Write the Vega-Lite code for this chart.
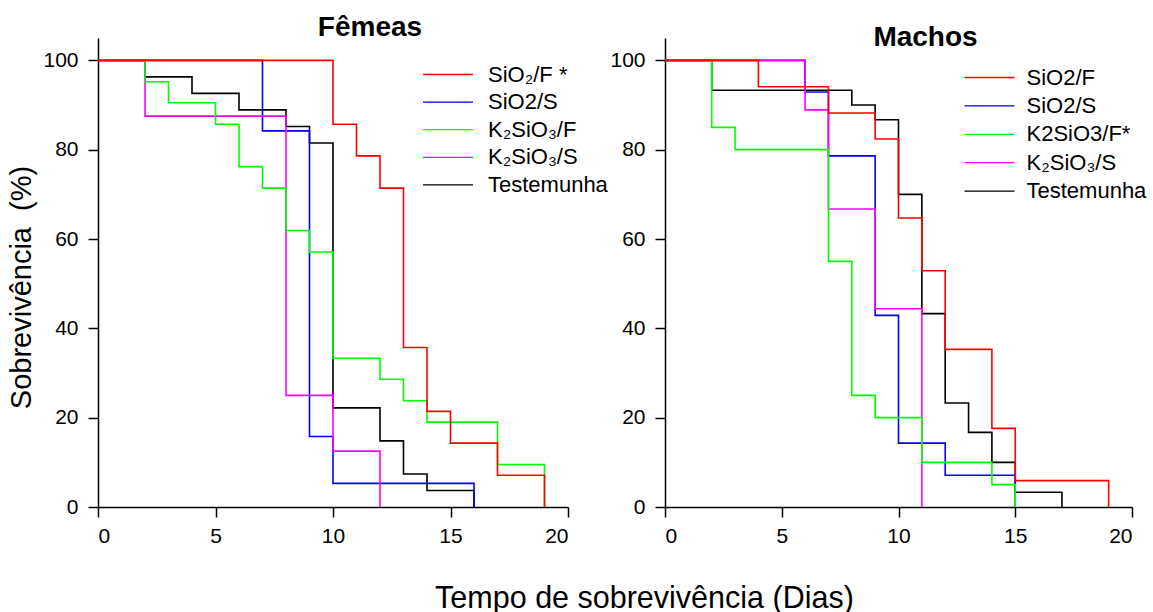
{
  "$schema": "https://vega.github.io/schema/vega-lite/v6.json",
  "background": "white",
  "padding": {"left": 7, "top": 14, "right": 0, "bottom": 0},
  "datasets": {
    "femeas": [
      {"serie": "SiO₂/F *", "t": 0, "s": 100}, {"serie": "SiO₂/F *", "t": 10, "s": 85.7}, {"serie": "SiO₂/F *", "t": 11, "s": 78.6}, {"serie": "SiO₂/F *", "t": 12, "s": 71.4}, {"serie": "SiO₂/F *", "t": 13, "s": 35.7}, {"serie": "SiO₂/F *", "t": 14, "s": 21.4}, {"serie": "SiO₂/F *", "t": 15, "s": 14.3}, {"serie": "SiO₂/F *", "t": 17, "s": 7.1}, {"serie": "SiO₂/F *", "t": 19, "s": 0},
      {"serie": "SiO2/S", "t": 0, "s": 100}, {"serie": "SiO2/S", "t": 7, "s": 84.2}, {"serie": "SiO2/S", "t": 9, "s": 15.8}, {"serie": "SiO2/S", "t": 10, "s": 5.3}, {"serie": "SiO2/S", "t": 16, "s": 0},
      {"serie": "K₂SiO₃/F", "t": 0, "s": 100}, {"serie": "K₂SiO₃/F", "t": 2, "s": 95.2}, {"serie": "K₂SiO₃/F", "t": 3, "s": 90.5}, {"serie": "K₂SiO₃/F", "t": 5, "s": 85.7}, {"serie": "K₂SiO₃/F", "t": 6, "s": 76.2}, {"serie": "K₂SiO₃/F", "t": 7, "s": 71.4}, {"serie": "K₂SiO₃/F", "t": 8, "s": 61.9}, {"serie": "K₂SiO₃/F", "t": 9, "s": 57.1}, {"serie": "K₂SiO₃/F", "t": 10, "s": 33.3}, {"serie": "K₂SiO₃/F", "t": 12, "s": 28.6}, {"serie": "K₂SiO₃/F", "t": 13, "s": 23.8}, {"serie": "K₂SiO₃/F", "t": 14, "s": 19.0}, {"serie": "K₂SiO₃/F", "t": 17, "s": 9.5}, {"serie": "K₂SiO₃/F", "t": 19, "s": 0},
      {"serie": "K₂SiO₃/S", "t": 0, "s": 100}, {"serie": "K₂SiO₃/S", "t": 2, "s": 87.5}, {"serie": "K₂SiO₃/S", "t": 8, "s": 25}, {"serie": "K₂SiO₃/S", "t": 10, "s": 12.5}, {"serie": "K₂SiO₃/S", "t": 12, "s": 0},
      {"serie": "Testemunha", "t": 0, "s": 100}, {"serie": "Testemunha", "t": 2, "s": 96.3}, {"serie": "Testemunha", "t": 4, "s": 92.6}, {"serie": "Testemunha", "t": 6, "s": 88.9}, {"serie": "Testemunha", "t": 8, "s": 85.2}, {"serie": "Testemunha", "t": 9, "s": 81.5}, {"serie": "Testemunha", "t": 10, "s": 22.2}, {"serie": "Testemunha", "t": 12, "s": 14.8}, {"serie": "Testemunha", "t": 13, "s": 7.4}, {"serie": "Testemunha", "t": 14, "s": 3.7}, {"serie": "Testemunha", "t": 16, "s": 0}
    ],
    "machos": [
      {"serie": "SiO2/F", "t": 0, "s": 100}, {"serie": "SiO2/F", "t": 4, "s": 94.1}, {"serie": "SiO2/F", "t": 7, "s": 88.2}, {"serie": "SiO2/F", "t": 9, "s": 82.4}, {"serie": "SiO2/F", "t": 10, "s": 64.7}, {"serie": "SiO2/F", "t": 11, "s": 52.9}, {"serie": "SiO2/F", "t": 12, "s": 35.3}, {"serie": "SiO2/F", "t": 14, "s": 17.6}, {"serie": "SiO2/F", "t": 15, "s": 5.9}, {"serie": "SiO2/F", "t": 19, "s": 0},
      {"serie": "SiO2/S", "t": 0, "s": 100}, {"serie": "SiO2/S", "t": 6, "s": 92.9}, {"serie": "SiO2/S", "t": 7, "s": 78.6}, {"serie": "SiO2/S", "t": 9, "s": 42.9}, {"serie": "SiO2/S", "t": 10, "s": 14.3}, {"serie": "SiO2/S", "t": 12, "s": 7.1}, {"serie": "SiO2/S", "t": 15, "s": 0},
      {"serie": "K2SiO3/F*", "t": 0, "s": 100}, {"serie": "K2SiO3/F*", "t": 2, "s": 85}, {"serie": "K2SiO3/F*", "t": 3, "s": 80}, {"serie": "K2SiO3/F*", "t": 7, "s": 55}, {"serie": "K2SiO3/F*", "t": 8, "s": 25}, {"serie": "K2SiO3/F*", "t": 9, "s": 20}, {"serie": "K2SiO3/F*", "t": 11, "s": 10}, {"serie": "K2SiO3/F*", "t": 14, "s": 5}, {"serie": "K2SiO3/F*", "t": 15, "s": 0},
      {"serie": "K₂SiO₃/S", "t": 0, "s": 100}, {"serie": "K₂SiO₃/S", "t": 6, "s": 88.9}, {"serie": "K₂SiO₃/S", "t": 7, "s": 66.7}, {"serie": "K₂SiO₃/S", "t": 9, "s": 44.4}, {"serie": "K₂SiO₃/S", "t": 11, "s": 0},
      {"serie": "Testemunha", "t": 0, "s": 100}, {"serie": "Testemunha", "t": 2, "s": 93.3}, {"serie": "Testemunha", "t": 8, "s": 90}, {"serie": "Testemunha", "t": 9, "s": 86.7}, {"serie": "Testemunha", "t": 10, "s": 70}, {"serie": "Testemunha", "t": 11, "s": 43.3}, {"serie": "Testemunha", "t": 12, "s": 23.3}, {"serie": "Testemunha", "t": 13, "s": 16.7}, {"serie": "Testemunha", "t": 14, "s": 10}, {"serie": "Testemunha", "t": 15, "s": 3.3}, {"serie": "Testemunha", "t": 17, "s": 0}
    ]
  },
  "title": {"text": "Tempo de sobrevivência (Dias)", "orient": "bottom", "anchor": "middle", "fontSize": 30.5, "fontWeight": "normal", "font": "Liberation Sans", "color": "black", "offset": 38, "dx": 67},
  "spacing": 0,
  "resolve": {"scale": {"color": "independent"}},
  "hconcat": [
    {
      "width": 470,
      "height": 469,
      "title": {"text": "Fêmeas", "fontSize": 28, "fontWeight": "bold", "font": "Liberation Sans", "anchor": "middle", "dx": 37, "dy": 28, "offset": 2, "baseline": "alphabetic", "color": "black"},
      "data": {"name": "femeas"},
      "encoding": {
        "x": {"field": "t", "type": "quantitative", "scale": {"domain": [0, 20], "nice": false}, "axis": {"values": [0, 5, 10, 15, 20], "title": null, "labelPadding": 8}},
        "y": {"field": "s", "type": "quantitative", "scale": {"domain": [0, 105], "nice": false}, "axis": {"values": [0, 20, 40, 60, 80, 100], "title": "Sobrevivência\u00a0 (%)", "titleFontSize": 29, "labelPadding": 10, "titlePadding": 6, "titleY": 249}},
        "color": {"field": "serie", "type": "nominal", "scale": {"domain": ["SiO₂/F *", "SiO2/S", "K₂SiO₃/F", "K₂SiO₃/S", "Testemunha"], "range": ["#ff0000", "#0000ff", "#00ff00", "#ff00ff", "#000000"]}, "legend": {"title": null, "orient": "none", "legendX": 336.5, "legendY": 23, "rowPadding": 2.6, "labelOffset": 26.5}}
      },
      "layer": [
        {"transform": [{"filter": "datum.serie === 'Testemunha'"}], "mark": {"type": "line", "interpolate": "step-after", "strokeWidth": 1.6}},
        {"transform": [{"filter": "datum.serie === 'SiO2/S'"}], "mark": {"type": "line", "interpolate": "step-after", "strokeWidth": 1.6}},
        {"transform": [{"filter": "datum.serie === 'K₂SiO₃/S'"}], "mark": {"type": "line", "interpolate": "step-after", "strokeWidth": 1.6}},
        {"transform": [{"filter": "datum.serie === 'K₂SiO₃/F'"}], "mark": {"type": "line", "interpolate": "step-after", "strokeWidth": 1.6}},
        {"transform": [{"filter": "datum.serie === 'SiO₂/F *'"}], "mark": {"type": "line", "interpolate": "step-after", "strokeWidth": 1.6}}
      ]
    },
    {
      "width": 467,
      "height": 469,
      "title": {"text": "Machos", "fontSize": 28, "fontWeight": "bold", "font": "Liberation Sans", "anchor": "middle", "dx": 27, "dy": 38, "offset": 2, "baseline": "alphabetic", "color": "black"},
      "data": {"name": "machos"},
      "encoding": {
        "x": {"field": "t", "type": "quantitative", "scale": {"domain": [0, 20], "nice": false}, "axis": {"values": [0, 5, 10, 15, 20], "title": null, "labelPadding": 8}},
        "y": {"field": "s", "type": "quantitative", "scale": {"domain": [0, 105], "nice": false}, "axis": {"values": [0, 20, 40, 60, 80, 100], "title": null, "labelPadding": 10}},
        "color": {"field": "serie", "type": "nominal", "scale": {"domain": ["SiO2/F", "SiO2/S", "K2SiO3/F*", "K₂SiO₃/S", "Testemunha"], "range": ["#ff0000", "#0000ff", "#00ff00", "#ff00ff", "#000000"]}, "legend": {"title": null, "orient": "none", "legendX": 311, "legendY": 26, "rowPadding": 3.4, "labelOffset": 23.5}}
      },
      "layer": [
        {"transform": [{"filter": "datum.serie === 'Testemunha'"}], "mark": {"type": "line", "interpolate": "step-after", "strokeWidth": 1.6}},
        {"transform": [{"filter": "datum.serie === 'SiO2/S'"}], "mark": {"type": "line", "interpolate": "step-after", "strokeWidth": 1.6}},
        {"transform": [{"filter": "datum.serie === 'K₂SiO₃/S'"}], "mark": {"type": "line", "interpolate": "step-after", "strokeWidth": 1.6}},
        {"transform": [{"filter": "datum.serie === 'K2SiO3/F*'"}], "mark": {"type": "line", "interpolate": "step-after", "strokeWidth": 1.6}},
        {"transform": [{"filter": "datum.serie === 'SiO2/F'"}], "mark": {"type": "line", "interpolate": "step-after", "strokeWidth": 1.6}}
      ]
    }
  ],
  "config": {
    "view": {"stroke": null},
    "font": "Liberation Sans",
    "axis": {"domainColor": "black", "tickColor": "black", "domainWidth": 1.5, "tickWidth": 1.5, "tickSize": 10, "labelFontSize": 21, "labelColor": "black", "labelFont": "Liberation Sans", "grid": false, "titleFont": "Liberation Sans", "titleFontWeight": "normal", "titleColor": "black"},
    "legend": {"symbolType": "M-2,0H2", "symbolSize": 625, "symbolStrokeWidth": 1.3, "labelFontSize": 22, "labelFont": "Liberation Sans", "labelColor": "black", "labelLimit": 300}
  }
}
